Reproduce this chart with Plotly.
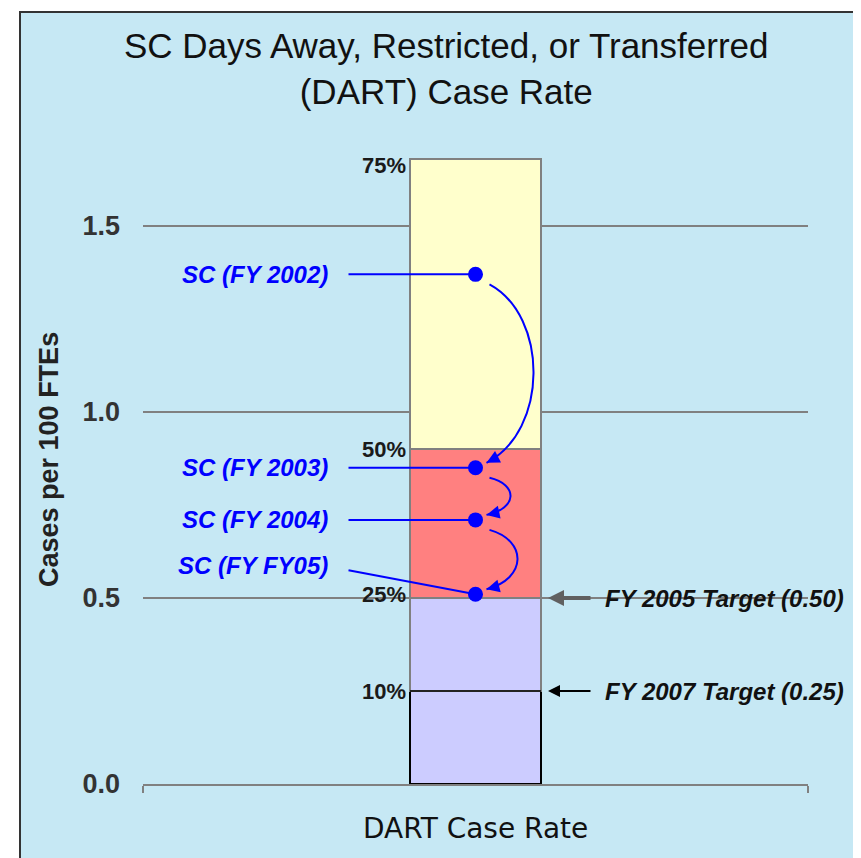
import plotly.graph_objects as go

# ---------------- data ----------------
percentile_labels = ["10%", "25%", "50%", "75%"]
percentile_values = [0.25, 0.50, 0.90, 1.68]

point_labels = ["SC (FY 2002)", "SC (FY 2003)", "SC (FY 2004)", "SC (FY FY05)"]
point_values = [1.37, 0.85, 0.71, 0.51]

target_labels = ["FY 2005 Target (0.50)", "FY 2007 Target (0.25)"]
target_values = [0.50, 0.25]

category = "DART Case Rate"
y_tickvals = [0.0, 0.5, 1.0, 1.5]
y_ticktext = ["0.0", "0.5", "1.0", "1.5"]

# ---------------- layout constants (style) ----------------
W, H = 853, 850
ML, MR, MT, MB = 135, 53, 125, 74
PW = W - ML - MR          # plot width in px (665)
PH = H - MT - MB          # plot height in px (651)
YMAX = 1.75
XR = (-0.5, 0.5)
PLOT_L, PLOT_B = 143, 784   # plot-area edges in screen px (page offset 8)

def dx(px):  # pixel -> x data units
    return px / PW * (XR[1] - XR[0])

def dy(px):  # pixel -> y data units
    return px / PH * YMAX

def px_x(sx):  # screen x -> paper
    return (sx - PLOT_L) / PW

def px_y(sy):  # screen y -> paper
    return (PLOT_B - sy) / PH

BAR_W = 0.197
BLUE = "#0000ff"
GRAY = "#808080"
BG = "#c6e8f4"
FONT = "Liberation Sans, Arial"

seg_colors = ["#ccccff", "#ccccff", "#ff8080", "#ffffcc"]
seg_lines = ["#000000", GRAY, GRAY, GRAY]

fig = go.Figure()

# stacked bar segments from percentile boundaries
prev = 0.0
for i, v in enumerate(percentile_values):
    fig.add_trace(go.Bar(
        x=[0], y=[v - prev], width=BAR_W,
        marker=dict(color=seg_colors[i], line=dict(color=seg_lines[i], width=2)),
        showlegend=False, hoverinfo="skip"))
    prev = v

# connector lines from labels to the points
label_dy = [0, 0, 0, 0.078]
for i, (lab, v) in enumerate(zip(point_labels, point_values)):
    ly = v + label_dy[i]
    fig.add_trace(go.Scatter(
        x=[dx(-127), 0], y=[ly + (dy(-5) if label_dy[i] else 0), v],
        mode="lines", line=dict(color=BLUE, width=2),
        showlegend=False, hoverinfo="skip"))
    fig.add_annotation(
        x=dx(-146), y=ly, xref="x", yref="y", text=lab,
        showarrow=False, xanchor="right", yanchor="middle",
        font=dict(family=FONT, size=24, color=BLUE, weight="bold", style="italic"))

# points
fig.add_trace(go.Scatter(
    x=[0] * len(point_values), y=point_values, mode="markers",
    marker=dict(color=BLUE, size=15), showlegend=False, hoverinfo="skip"))

shapes = []
# dark line at the 10% boundary
shapes.append(dict(type="line", xref="x", yref="y", x0=-BAR_W / 2, x1=BAR_W / 2,
                   y0=percentile_values[0], y1=percentile_values[0],
                   line=dict(color="#222222", width=2), layer="above"))

# curved arrows between consecutive points
bulges = [58, 35, 42]
for i in range(len(point_values) - 1):
    ya, yb = point_values[i], point_values[i + 1]
    sx, sy = 14, ya - dy(10)
    ex, ey = 11, yb + dy(5)
    X = (bulges[i] - 0.125 * (sx + ex)) / 0.75
    span = sy - ey
    c1y = sy - 0.18 * span
    c2y = ey + 0.18 * span
    path = "M %f,%f C %f,%f %f,%f %f,%f" % (dx(sx), sy, dx(X), c1y, dx(X), c2y, dx(ex), ey)
    shapes.append(dict(type="path", path=path, xref="x", yref="y",
                       line=dict(color=BLUE, width=2), layer="above"))
    dxp = X - ex
    dyp = -(c2y - ey) / YMAX * PH
    L = (dxp ** 2 + dyp ** 2) ** 0.5
    fig.add_annotation(x=dx(ex), y=ey, xref="x", yref="y", text="",
                       showarrow=True, arrowhead=2, arrowsize=1.3, arrowwidth=2,
                       arrowcolor=BLUE, ax=12 * dxp / L, ay=12 * dyp / L, standoff=0)

# percentile labels
for lab, v in zip(percentile_labels, percentile_values):
    fig.add_annotation(x=-BAR_W / 2, y=v, xref="x", yref="y", text=lab,
                       showarrow=False, xanchor="right", yanchor="middle",
                       xshift=-2, yshift=(-6 if v == max(percentile_values) else (4 if v == 0.5 else 0)),
                       font=dict(family=FONT, size=22, color="#1a1a1a", weight="bold"))

# target arrows & labels
arrow_styles = [dict(arrowcolor="#606060", arrowwidth=4, arrowhead=2, arrowsize=0.8),
                dict(arrowcolor="#000000", arrowwidth=2, arrowhead=2, arrowsize=1.2)]
for lab, v, st in zip(target_labels, target_values, arrow_styles):
    fig.add_annotation(x=BAR_W / 2 + dx(7), y=v, xref="x", yref="y", text="",
                       showarrow=True, ax=44, ay=0, standoff=0, **st)
    fig.add_annotation(x=BAR_W / 2 + dx(62), y=v, xref="x", yref="y",
                       text=lab, showarrow=False, xanchor="left", yanchor="middle",
                       font=dict(family=FONT, size=24, color="#111111",
                                 weight="bold", style="italic"))

# background frame
shapes.insert(0, dict(type="rect", xref="paper", yref="paper",
                      x0=px_x(20), x1=px_x(855), y0=-0.3, y1=px_y(12),
                      fillcolor=BG, line=dict(color="#333333", width=2), layer="below"))

# title
fig.add_annotation(xref="paper", yref="paper", x=px_x(446), y=px_y(68),
                   text="SC Days Away, Restricted, or Transferred<br>(DART) Case Rate",
                   showarrow=False, xanchor="center", yanchor="middle",
                   font=dict(family=FONT, size=35, color="#111111"))

# axis titles
fig.add_annotation(xref="paper", yref="paper", x=0.5, y=px_y(828),
                   text=category, showarrow=False, xanchor="center", yanchor="middle",
                   font=dict(family="DejaVu Sans", size=28, color="#111111"))
fig.add_annotation(xref="paper", yref="paper", x=px_x(49), y=px_y(460),
                   text="Cases per 100 FTEs", textangle=-90, showarrow=False,
                   xanchor="center", yanchor="middle",
                   font=dict(family=FONT, size=27, color="#222222", weight="bold"))

fig.update_layout(
    width=W, height=H,
    margin=dict(l=ML, r=MR, t=MT, b=MB, autoexpand=False),
    paper_bgcolor="white", plot_bgcolor="rgba(0,0,0,0)",
    barmode="stack", bargap=0,
    shapes=shapes, showlegend=False,
    xaxis=dict(range=list(XR), showgrid=False, zeroline=False, showline=True,
               linecolor=GRAY, linewidth=2, tickvals=[-0.5, 0.5], ticktext=["", ""],
               ticks="outside", ticklen=7, tickwidth=2, tickcolor=GRAY, fixedrange=True),
    yaxis=dict(range=[0, YMAX], tickvals=y_tickvals, ticktext=y_ticktext,
               showgrid=True, gridcolor=GRAY, gridwidth=2, zeroline=False,
               showline=False, ticks="", ticklabelstandoff=22,
               tickfont=dict(family=FONT, size=27, color="#333333", weight="bold"),
               fixedrange=True),
)

fig.write_html("out.html")
